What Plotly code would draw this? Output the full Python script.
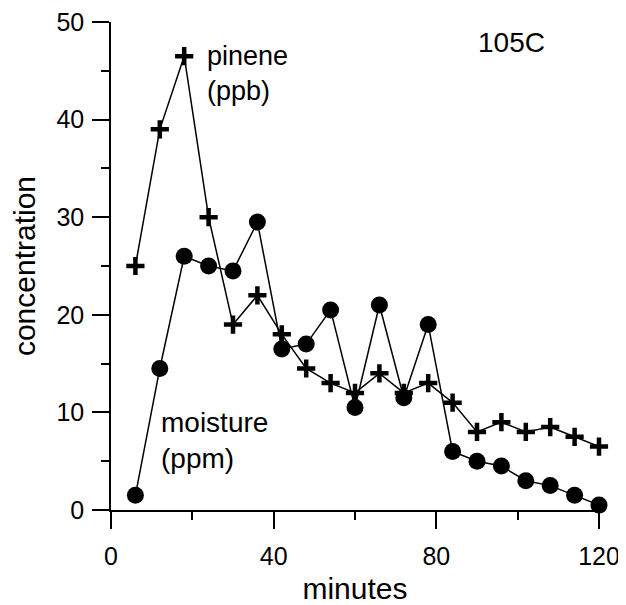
import plotly.graph_objects as go

minutes = [6, 12, 18, 24, 30, 36, 42, 48, 54, 60, 66, 72, 78, 84, 90, 96, 102, 108, 114, 120]
pinene_ppb = [25, 39, 46.5, 30, 19, 22, 18, 14.5, 13, 12, 14, 12, 13, 11, 8, 9, 8, 8.5, 7.5, 6.5]
moisture_ppm = [1.5, 14.5, 26, 25, 24.5, 29.5, 16.5, 17, 20.5, 10.5, 21, 11.5, 19, 6, 5, 4.5, 3, 2.5, 1.5, 0.5]
x_ticks = [0, 40, 80, 120]
y_ticks = [0, 10, 20, 30, 40, 50]

FONT = "Liberation Sans, Arial, sans-serif"

fig = go.Figure()
fig.add_trace(go.Scatter(
    x=minutes, y=moisture_ppm, mode="lines+markers",
    line=dict(color="black", width=1.5),
    marker=dict(symbol="circle", size=17, color="black"),
    cliponaxis=False, showlegend=False))
fig.add_trace(go.Scatter(
    x=minutes, y=pinene_ppb, mode="lines+markers",
    line=dict(color="black", width=1.5),
    marker=dict(symbol="cross-thin", size=13, color="black",
                line=dict(color="black", width=4.5)),
    cliponaxis=False, showlegend=False))

fig.update_layout(
    width=618, height=597,
    margin=dict(l=103, r=27, t=14, b=95, autoexpand=False),
    paper_bgcolor="white", plot_bgcolor="white",
    font=dict(family=FONT, size=25, color="black"),
    xaxis=dict(range=[0, 120], showline=True, linecolor="black", linewidth=1.5,
               showgrid=False, zeroline=False, tickvals=x_ticks, automargin=False,
               ticks="outside", ticklen=17, tickwidth=1.5, tickcolor="black",
               ticklabelstandoff=6, ticklabeloverflow="allow",
               minor=dict(dtick=20, ticks="outside", ticklen=8, tickwidth=1.5, tickcolor="black", showgrid=False),
               title=dict(text="minutes", standoff=12)),
    yaxis=dict(range=[0, 50], showline=True, linecolor="black", linewidth=1.5,
               showgrid=False, zeroline=False, tickvals=y_ticks, automargin=False,
               ticks="outside", ticklen=17, tickwidth=1.5, tickcolor="black",
               ticklabelstandoff=3, ticklabeloverflow="allow",
               minor=dict(dtick=5, ticks="outside", ticklen=8, tickwidth=1.5, tickcolor="black", showgrid=False),
               title=dict(text="concentration", standoff=19)),
    annotations=[
        dict(x=23, y=48.3, xref="x", yref="y", text="pinene<br>(ppb)", showarrow=False,
             xanchor="left", yanchor="top", align="left", font=dict(size=27)),
        dict(x=11.75, y=10.8, xref="x", yref="y", text="moisture<br>(ppm)", showarrow=False,
             xanchor="left", yanchor="top", align="left", font=dict(size=28)),
        dict(x=89.75, y=49.7, xref="x", yref="y", text="105C", showarrow=False,
             xanchor="left", yanchor="top", align="left", font=dict(size=28)),
    ],
)

fig.write_html("out.html")
